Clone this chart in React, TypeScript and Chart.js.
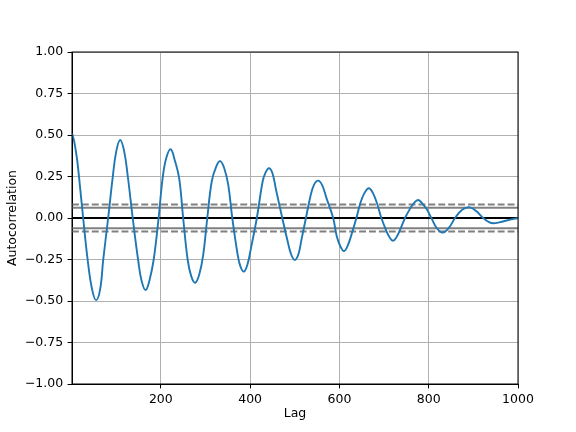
import { useEffect, useRef } from 'react'
import { Chart, registerables } from 'chart.js'
Chart.register(...registerables)

// lag values (x) and autocorrelation
const LAGS = [
  1, 6, 12, 17, 26, 36, 46, 55, 64, 71, 82, 92, 100, 109, 118, 126, 137, 149, 157, 166,
  175, 184, 195, 204, 212, 222, 231, 241, 250, 260, 268, 277, 286, 295, 304, 314, 324, 333,
  342, 351, 360, 372, 378, 386, 394, 402, 415, 428, 434, 442, 450, 458, 472, 484, 492, 500,
  508, 515, 525, 535, 543, 552, 561, 571, 586, 594, 602, 610, 618, 627, 638, 647, 656, 666,
  675, 684, 694, 704, 712, 720, 728, 736, 747, 758, 767, 776, 785, 795, 806, 818, 831, 845,
  859, 875, 892, 907, 922, 935, 945, 960, 975, 1000,
]
const ACF = [
  0.51, 0.46, 0.36, 0.24, 0.0, -0.25, -0.43, -0.495, -0.43, -0.25, 0.0, 0.24, 0.4, 0.47, 0.4, 0.25, 0.0, -0.25, -0.38, -0.434,
  -0.37, -0.25, 0.0, 0.24, 0.36, 0.414, 0.35, 0.24, 0.0, -0.25, -0.35, -0.39, -0.34, -0.22, 0.0, 0.22, 0.31, 0.343,
  0.3, 0.2, 0.0, -0.22, -0.29, -0.323, -0.28, -0.18, 0.0, 0.22, 0.27, 0.3, 0.27, 0.17, 0.0, -0.14, -0.22, -0.253,
  -0.22, -0.13, 0.0, 0.13, 0.2, 0.225, 0.2, 0.12, 0.0, -0.11, -0.17, -0.199, -0.17, -0.1, 0.0, 0.09, 0.15, 0.179,
  0.15, 0.09, 0.0, -0.07, -0.115, -0.137, -0.115, -0.07, 0.0, 0.055, 0.09, 0.108, 0.09, 0.055, 0.0, -0.06, -0.088, -0.06,
  0.0, 0.05, 0.064, 0.04, 0.0, -0.025, -0.032, -0.025, -0.015, 0.0,
]
const X_TICKS = [200, 400, 600, 800, 1000]
const Y_TICKS = [-1, -0.75, -0.5, -0.25, 0, 0.25, 0.5, 0.75, 1]
const X_MIN = 1, X_MAX = 1000
const BAND_95 = 0.062
const BAND_99 = 0.0815

// 90 dpi figure: 10pt -> 12.5px, 1.5pt -> 1.9px
const FONT = { family: 'DejaVu Sans', size: 12.5 }
const DASH = [6.9, 3]
const fmtY = (v: number) => (v < 0 ? '\u2212' : '') + Math.abs(v).toFixed(2)

const hline = (y: number, color: string, dash: number[] = []) => ({
  data: [{ x: X_MIN, y }, { x: X_MAX, y }],
  borderColor: color, borderWidth: 1.9, borderDash: dash, pointRadius: 0, order: 1,
})

// top / right spines, drawn over the data like matplotlib
const frame = {
  id: 'frame',
  afterDatasetsDraw(chart: any) {
    const { ctx, chartArea: a } = chart
    ctx.save()
    ctx.strokeStyle = '#000'
    ctx.lineWidth = 1
    ctx.strokeRect(a.left, a.top, a.right - a.left, a.bottom - a.top)
    ctx.restore()
  },
}

export default function App() {
  const ref = useRef<HTMLCanvasElement>(null)
  const inst = useRef<Chart | null>(null)

  useEffect(() => {
    document.body.style.margin = '0'
    if (!ref.current) return
    inst.current?.destroy()
    inst.current = new Chart(ref.current, {
      type: 'line',
      data: {
        datasets: [
          {
            data: LAGS.map((x, i) => ({ x, y: ACF[i] })),
            borderColor: '#1f77b4', borderWidth: 1.9, pointRadius: 0,
            tension: 0.4, order: 0,
          },
          hline(BAND_99, '#808080', DASH),
          hline(BAND_95, '#808080'),
          hline(0, '#000000'),
          hline(-BAND_95, '#808080'),
          hline(-BAND_99, '#808080', DASH),
        ] as any,
      },
      options: {
        animation: false, responsive: true, maintainAspectRatio: false,
        layout: { padding: { top: 52, right: 58, bottom: 0, left: 0 } },
        plugins: { legend: { display: false }, tooltip: { enabled: false } },
        scales: {
          x: {
            type: 'linear', min: X_MIN, max: X_MAX,
            afterBuildTicks: (s: any) => { s.ticks = X_TICKS.map(value => ({ value })) },
            afterFit: (s: any) => { s.height = 48 },
            grid: { color: '#b0b0b0', lineWidth: 1, tickColor: '#000', tickLength: 4.4 },
            border: { color: '#000', width: 1 },
            ticks: { font: FONT, color: '#000', padding: 4, maxRotation: 0, autoSkip: false, callback: (v: any) => String(v) },
            title: { display: true, text: 'Lag', font: FONT, color: '#000', padding: { top: 4, bottom: 11 } },
          },
          y: {
            type: 'linear', min: -1, max: 1,
            afterBuildTicks: (s: any) => { s.ticks = Y_TICKS.map(value => ({ value })) },
            afterFit: (s: any) => { s.width = 72 },
            grid: { color: '#b0b0b0', lineWidth: 1, tickColor: '#000', tickLength: 4.4 },
            border: { color: '#000', width: 1 },
            ticks: { font: FONT, color: '#000', padding: 4.4, autoSkip: false, callback: (v: any) => fmtY(+v) },
            title: { display: true, text: 'Autocorrelation', font: FONT, color: '#000', padding: { top: 5.5, bottom: 4 } },
          },
        },
      },
      plugins: [frame],
    })
    return () => inst.current?.destroy()
  }, [])

  return (
    <div style={{ position: 'relative', width: 576, height: 432, background: '#fff' }}>
      <canvas ref={ref} />
    </div>
  )
}
